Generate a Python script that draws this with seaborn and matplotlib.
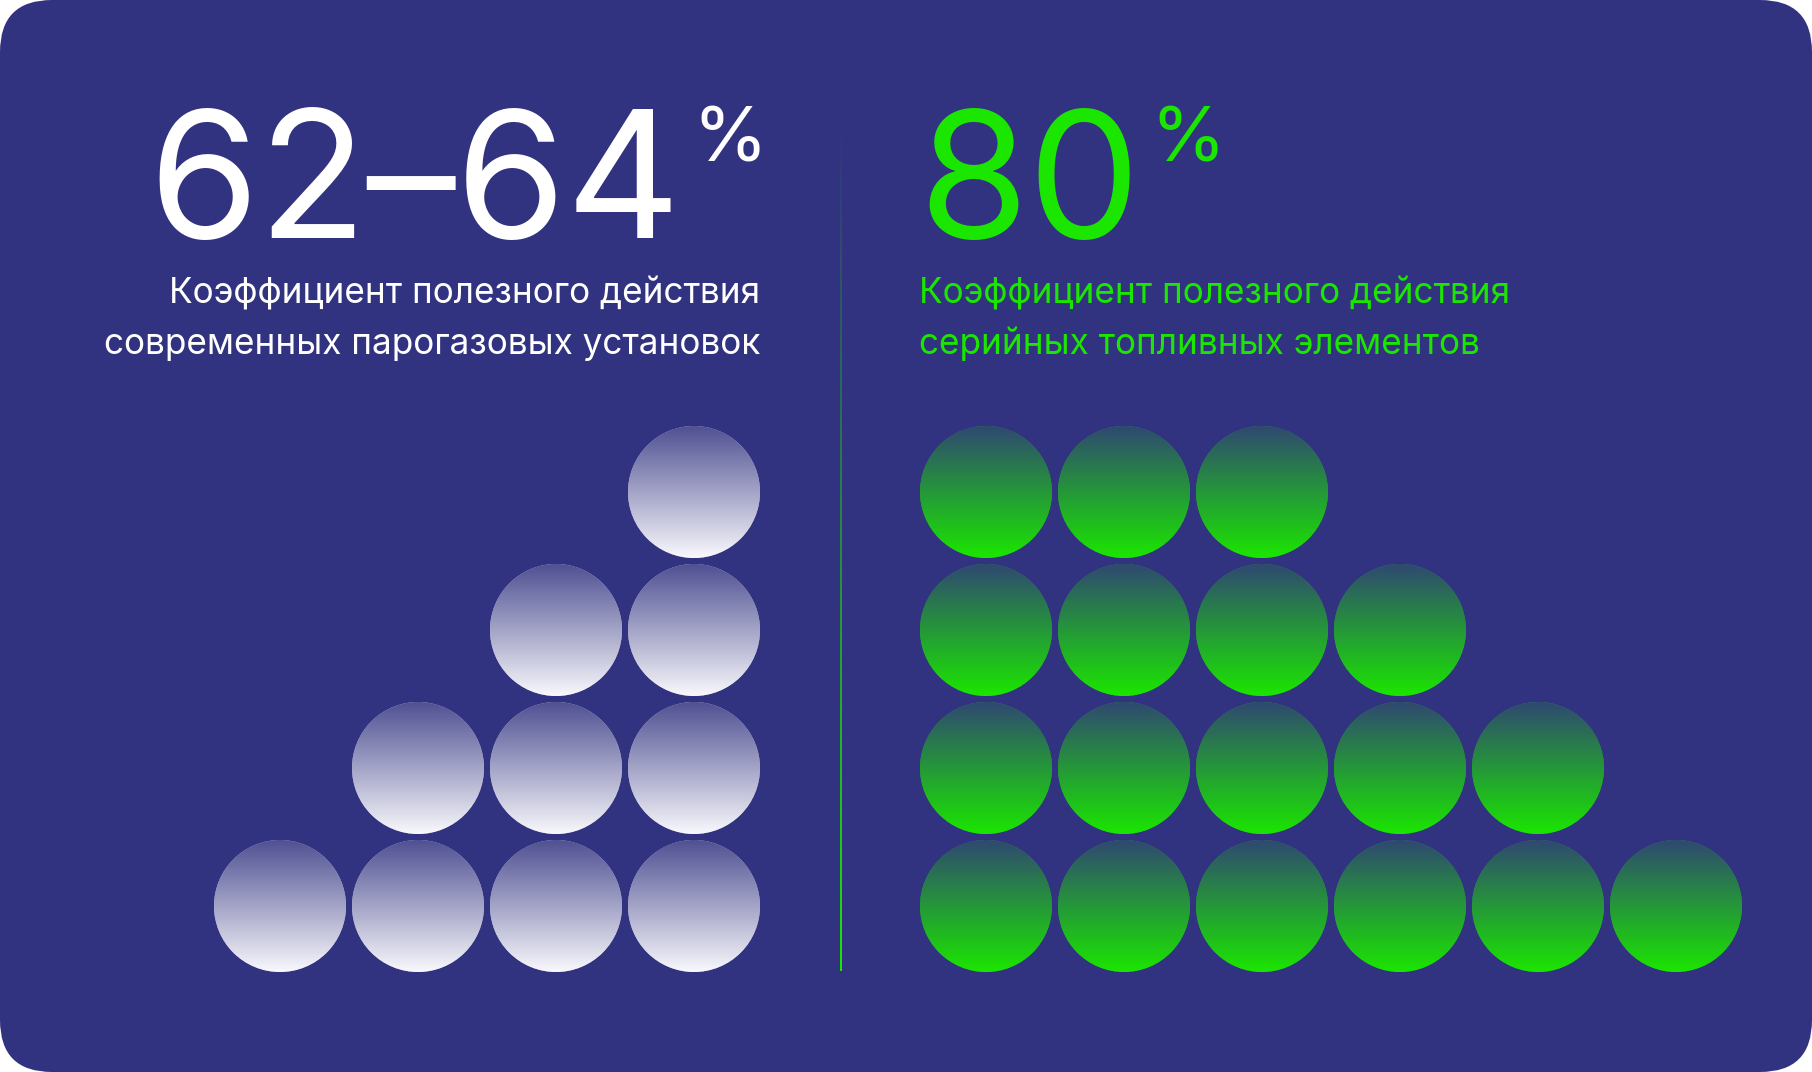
import numpy as np
import matplotlib
matplotlib.use("Agg")
import matplotlib.pyplot as plt
import seaborn as sns
import pandas as pd
from matplotlib.patches import FancyBboxPatch, Circle
from matplotlib.colors import to_rgb

# --- data -------------------------------------------------------------
left_value = "62–64"
right_value = "80"
percent_sign = "%"
left_caption = ["Коэффициент полезного действия",
                "современных парогазовых установок"]
right_caption = ["Коэффициент полезного действия",
                 "серийных топливных элементов"]
# circles per row, top row first
left_row_counts = [1, 2, 3, 4]
right_row_counts = [3, 4, 5, 6]

# --- style ------------------------------------------------------------
BG = "#323380"
GREEN = "#1BE600"
WHITE = "#F8F8FC"
W, H = 1812, 1072

sns.set_theme(style="white")
plt.rcParams["font.family"] = ["Inter", "DejaVu Sans"]

fig = plt.figure(figsize=(W / 100, H / 100), dpi=100)
fig.patch.set_facecolor("white")
ax = fig.add_axes([0, 0, 1, 1])
ax.set_xlim(0, W)
ax.set_ylim(H, 0)
ax.axis("off")

ax.add_patch(FancyBboxPatch((0, 0), W, H, boxstyle="round,pad=0,rounding_size=52",
                            facecolor=BG, edgecolor="none", zorder=0))


def grid_points(row_counts, first_x, step, align):
    # rows grow from the right (align='right') or from the left
    rows = []
    for r, n in enumerate(row_counts):
        for k in range(n):
            col = -k if align == "right" else k
            rows.append({"x": first_x + col * step, "y": 492 + r * step})
    return pd.DataFrame(rows)


def gradient_circles(df, color, radius, a_top, a_bot):
    c = np.array(to_rgb(color))
    bg = np.array(to_rgb(BG))
    t = np.linspace(0, 1, 200)[:, None]
    a = a_top + (a_bot - a_top) * t
    img = bg * (1 - a) + c * a
    img = np.repeat(img[:, None, :], 2, axis=1)
    for _, p in df.iterrows():
        im = ax.imshow(img, extent=(p.x - radius, p.x + radius, p.y + radius, p.y - radius),
                       origin="upper", interpolation="bilinear", zorder=3, aspect="auto")
        im.set_clip_path(Circle((p.x, p.y), radius, transform=ax.transData))


R = 66
STEP = 138
left_df = grid_points(left_row_counts, 694, STEP, "right")
right_df = grid_points(right_row_counts, 986, STEP, "left")

marker_s = (2 * R * 0.72) ** 2
sns.scatterplot(data=left_df, x="x", y="y", s=marker_s, color="#B8B9D6",
                edgecolor="none", ax=ax, zorder=2, legend=False)
sns.scatterplot(data=right_df, x="x", y="y", s=marker_s, color="#22A030",
                edgecolor="none", ax=ax, zorder=2, legend=False)
gradient_circles(left_df, WHITE, R, 0.15, 1.0)
gradient_circles(right_df, GREEN, R, 0.12, 1.0)

# divider line, fading out to the top
line = np.linspace(0, 1, 300)[:, None]
lc = np.array(to_rgb(BG)) * (1 - line) + np.array(to_rgb(GREEN)) * line
lc = np.repeat(lc[:, None, :], 2, axis=1)
ax.imshow(lc, extent=(840, 842, 971, 129), origin="upper", aspect="auto",
          interpolation="bilinear", zorder=1)

# --- texts ------------------------------------------------------------
ax.text(681, 238, left_value, color="white", fontsize=128, ha="right", va="baseline")
ax.text(692, 162, percent_sign, color="white", fontsize=55, ha="left", va="baseline")
for i, s in enumerate(left_caption):
    ax.text(760, 303 + i * 51, s, color="white", fontsize=25.3, ha="right", va="baseline")

ax.text(918, 238, right_value, color=GREEN, fontsize=128, ha="left", va="baseline")
ax.text(1150, 162, percent_sign, color=GREEN, fontsize=55, ha="left", va="baseline")
for i, s in enumerate(right_caption):
    ax.text(919, 303 + i * 51, s, color=GREEN, fontsize=25.3, ha="left", va="baseline")

ax.set_xlim(0, W)
ax.set_ylim(H, 0)
fig.savefig("out.png", dpi=100, facecolor="white")
